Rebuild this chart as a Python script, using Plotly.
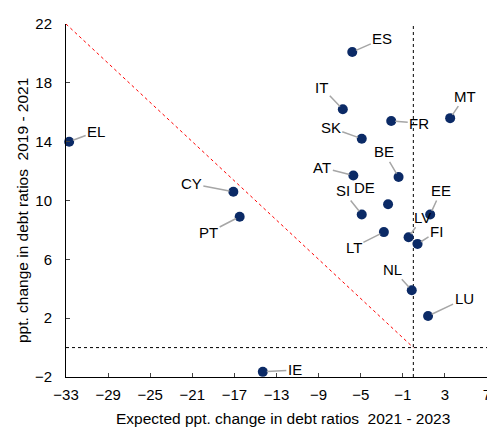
import plotly.graph_objects as go

countries = ["EL", "CY", "PT", "ES", "IT", "FR", "MT", "SK", "BE", "AT",
             "DE", "SI", "EE", "LT", "LV", "FI", "NL", "LU", "IE"]
x_vals = [-32.7, -17.1, -16.5, -5.8, -6.7, -2.1, 3.5, -4.9, -1.4, -5.7,
          -2.4, -4.9, 1.6, -2.8, -0.45, 0.4, -0.15, 1.4, -14.3]
y_vals = [14.0, 10.6, 8.9, 20.1, 16.2, 15.4, 15.6, 14.2, 11.6, 11.7,
          9.75, 9.05, 9.05, 7.85, 7.5, 7.05, 3.9, 2.15, -1.65]
# label offsets in pixels (dx, dy) from each point
label_dx = [27, -42, -31, 30, -21, 28, 15, -31, -15, -31, -24, -19, 11, -30, 14, 19, -19, 36, 32]
label_dy = [-10, -8, 16, -13, -22, 2, -22, -11, -25, -8, -17, -24, -24, 15, -20, -12, -21, -17, -2]
show_leader = [True] * len(countries)
show_leader[countries.index("DE")] = False

x_ticks = list(range(-33, 8, 4))
y_ticks = list(range(-2, 23, 4))
x_title = "Expected ppt. change in debt ratios \u00a02021 - 2023"
y_title = "ppt. change in debt ratios \u00a02019 - 2021"

fig = go.Figure()
fig.add_trace(go.Scatter(
    x=x_vals, y=y_vals, mode="markers",
    marker=dict(size=10, color="#0b2a66"),
    hoverinfo="text", text=countries, showlegend=False, cliponaxis=False,
))

# reference lines
fig.add_shape(type="line", xref="x", yref="y", x0=-33, y0=22, x1=0, y1=0,
              line=dict(color="red", width=1, dash="dot"), layer="below")
fig.add_shape(type="line", xref="paper", yref="y", x0=0, y0=0, x1=1, y1=0,
              line=dict(color="black", width=1, dash="dot"), layer="below")
fig.add_shape(type="line", xref="x", yref="paper", x0=0, y0=0, x1=0, y1=1,
              line=dict(color="black", width=1, dash="dot"), layer="below")

for c, xv, yv, dx, dy, sl in zip(countries, x_vals, y_vals, label_dx, label_dy, show_leader):
    fig.add_annotation(
        x=xv, y=yv, text=c, ax=dx, ay=dy, showarrow=True,
        arrowhead=0, arrowwidth=1.5,
        arrowcolor="#a6a6a6" if sl else "rgba(0,0,0,0)",
        standoff=4, font=dict(family="Arial", size=15, color="black"),
    )

# axis titles
fig.add_annotation(xref="paper", yref="paper", x=0.515, y=0, yshift=-41,
                   text=x_title, showarrow=False, yanchor="middle",
                   font=dict(family="Arial", size=15.5, color="black"))
fig.add_annotation(xref="paper", yref="paper", x=0, xshift=-44, y=0.47,
                   text=y_title, showarrow=False, textangle=-90, xanchor="center",
                   font=dict(family="Arial", size=15.5, color="black"))

fig.update_layout(
    width=487, height=428,
    margin=dict(l=66, r=0, t=24, b=51),
    plot_bgcolor="white", paper_bgcolor="white",
    font=dict(family="Arial", size=15, color="black"),
    xaxis=dict(range=[-33, 7], tickvals=x_ticks, ticks="inside", ticklen=4,
               showline=True, linecolor="black", linewidth=1, showgrid=False,
               zeroline=False, tickfont=dict(size=15), automargin=False,
               ticklabelstandoff=4, ticklabeloverflow="allow"),
    yaxis=dict(range=[-2, 22], tickvals=y_ticks, ticks="inside", ticklen=4,
               showline=True, linecolor="black", linewidth=1, showgrid=False,
               zeroline=False, tickfont=dict(size=15), automargin=False,
               ticklabelstandoff=10, ticklabeloverflow="allow"),
)

fig.write_html(
    "out.html",
    config={"displayModeBar": False},
    post_script="document.body.style.margin='0';document.body.style.overflow='hidden';",
)
